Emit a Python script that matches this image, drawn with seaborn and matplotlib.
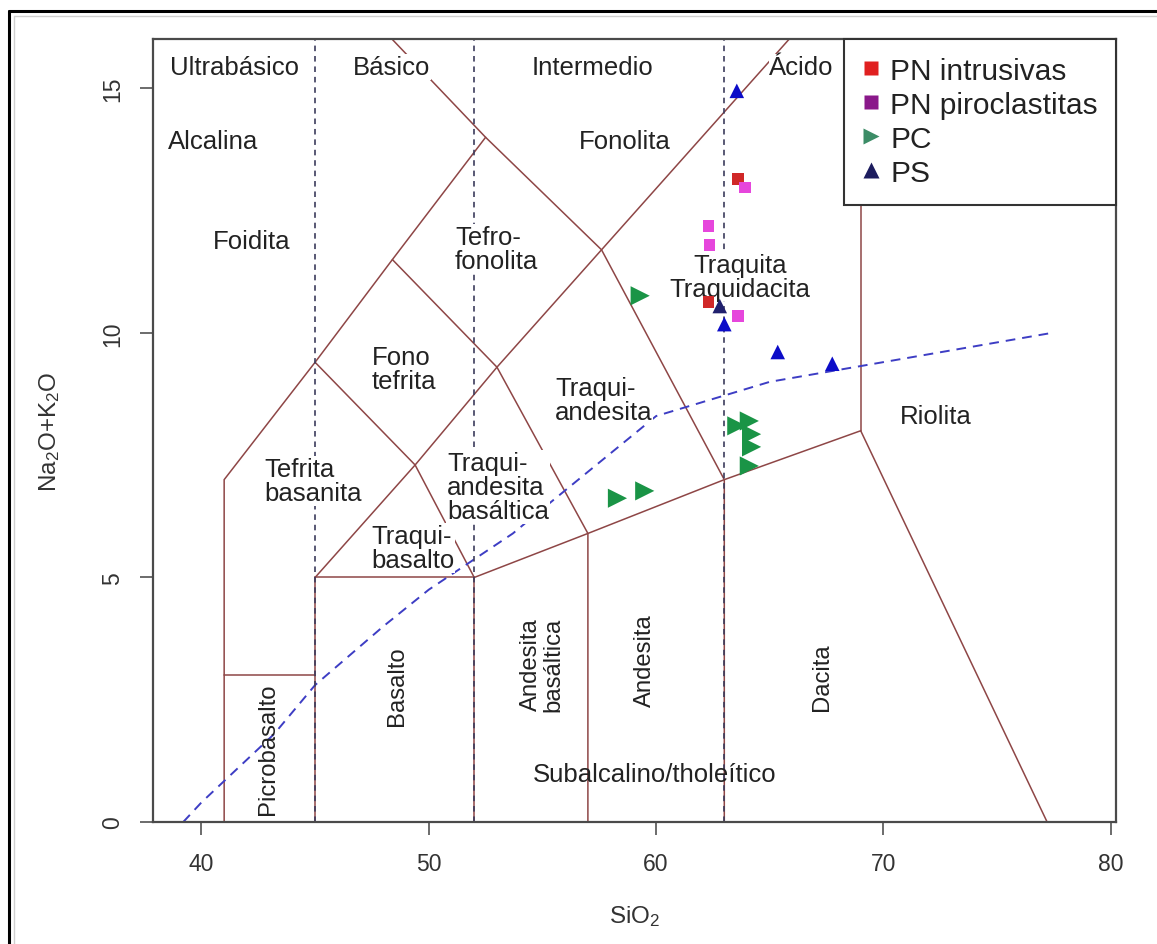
import matplotlib
matplotlib.use("Agg")
import matplotlib.pyplot as plt
import seaborn as sns
import pandas as pd
from matplotlib.lines import Line2D

sns.set_theme(style="white")
plt.rcParams["font.family"] = ["Liberation Sans", "DejaVu Sans"]
plt.rcParams["mathtext.default"] = "regular"
plt.rcParams["lines.scale_dashes"] = False

# ---- sample compositions: SiO2 (wt%) and Na2O+K2O (wt%) ----
pn_intr_sio2 = [63.6, 62.3]
pn_intr_alk = [13.15, 10.63]

pn_pir_sio2 = [63.9, 62.3, 62.35, 63.6]
pn_pir_alk = [12.97, 12.19, 11.80, 10.35]

pc_sio2 = [59.3, 63.55, 64.1, 64.2, 64.2, 64.1, 58.3, 59.5]
pc_alk = [10.76, 8.10, 8.20, 7.93, 7.67, 7.28, 6.62, 6.77]

ps_sio2 = [63.55, 62.8, 63.0, 65.35, 67.75]
ps_alk = [14.95, 10.55, 10.18, 9.61, 9.37]
ps_subset = ["b", "a", "b", "b", "b"]

# ---- TAS field boundaries (Le Bas et al., 1986) ----
tas_lines = [
    [(41, 0), (41, 7), (45, 9.4), (48.4, 11.5), (52.5, 14), (48.4, 16)],
    [(41, 3), (45, 3)],
    [(45, 0), (45, 5), (52, 5), (52, 0)],
    [(45, 5), (49.4, 7.3), (53, 9.3), (57.6, 11.7), (65.84, 16)],
    [(49.4, 7.3), (45, 9.4)],
    [(48.4, 11.5), (53, 9.3), (57, 5.9), (57, 0)],
    [(49.4, 7.3), (52, 5)],
    [(52, 5), (57, 5.9), (63, 7), (69, 8), (77.2, 0)],
    [(52.5, 14), (57.6, 11.7), (63, 7), (63, 0)],
    [(69, 8), (69, 13)],
]

# silica divisions: ultrabasic / basic / intermediate / acid
silica_limits = [45, 52, 63]

# alkaline / subalkaline divide (Irvine & Baragar, 1971)
ib_sio2 = [39.2, 40, 43.2, 45, 48, 50, 53.7, 55, 60, 65, 77.4]
ib_alk = [0, 0.4, 1.8, 2.8, 4, 4.75, 5.9, 6.4, 8.3, 9, 10]

# field names
field_labels = [
    ("Ultrabásico", 41.45, 15.44, "center", 0),
    ("Básico", 48.38, 15.44, "center", 0),
    ("Intermedio", 57.2, 15.44, "center", 0),
    ("Ácido", 66.4, 15.44, "center", 0),
    ("Alcalina", 40.5, 13.93, "center", 0),
    ("Foidita", 42.2, 11.88, "center", 0),
    ("Fonolita", 58.6, 13.93, "center", 0),
    ("Tefro-\nfonolita", 51.15, 11.72, "left", 0),
    ("Fono\ntefrita", 47.5, 9.26, "left", 0),
    ("Traquita\nTraquidacita", 63.69, 11.15, "center", 0),
    ("Traqui-\nandesita", 55.55, 8.63, "left", 0),
    ("Tefrita\nbasanita", 42.75, 6.97, "left", 0),
    ("Traqui-\nandesita\nbasáltica", 50.8, 6.85, "left", 0),
    ("Traqui-\nbasalto", 47.46, 5.6, "left", 0),
    ("Riolita", 72.3, 8.3, "center", 0),
    ("Picrobasalto", 42.93, 1.5, "center", 90),
    ("Basalto", 48.6, 2.80, "center", 90),
    ("Andesita\nbasáltica", 54.98, 3.23, "center", 90),
    ("Andesita", 59.5, 3.33, "center", 90),
    ("Dacita", 67.3, 2.99, "center", 90),
]
subalk_label = ("Subalcalino/tholeítico", 59.95, 0.98)

W, H = 1157, 945
fig = plt.figure(figsize=(W / 100, H / 100), dpi=100)
fig.patch.set_facecolor("white")
ax = fig.add_axes([153 / W, 1 - 823 / H, (1116 - 153) / W, (823 - 40) / H])
ax.set_facecolor("white")

line_col = "#8e4646"
for seg in tas_lines:
    xs, ys = zip(*seg)
    ax.plot(xs, ys, color=line_col, lw=1.1, zorder=2, solid_joinstyle="miter")

for xv in silica_limits:
    ax.plot([xv, xv], [0, 16.1], color="#3c3c5c", lw=1.2,
            dashes=(4, 3.5), zorder=2.2)

ib = pd.DataFrame({"SiO2": ib_sio2, "alk": ib_alk})
sns.lineplot(data=ib, x="SiO2", y="alk", sort=False, ax=ax, color="#3d3dc4",
             lw=1.4, dashes=False, zorder=2.1).lines[-1].set_dashes((7, 5))

box = dict(facecolor="white", edgecolor="none", pad=0.6)
for txt, xv, yv, ha, rot in field_labels:
    ax.text(xv, yv, txt, ha=ha, va="center",
            multialignment=ha if rot == 0 else "center",
            rotation=rot, fontsize=18.5 if rot == 0 else 17.2,
            color="#222222", linespacing=1.0,
            bbox=box if rot == 0 else None, zorder=3)
ax.text(subalk_label[1], subalk_label[2], subalk_label[0], ha="center",
        va="center", fontsize=18.5, color="#222222", zorder=3)

# samples
sns.scatterplot(x=pn_intr_sio2, y=pn_intr_alk, marker="s", s=70,
                color="#d02828", edgecolor="none", ax=ax, zorder=4, legend=False)
sns.scatterplot(x=pn_pir_sio2, y=pn_pir_alk, marker="s", s=70,
                color="#e646dc", edgecolor="none", ax=ax, zorder=4, legend=False)
sns.scatterplot(x=pc_sio2, y=pc_alk, marker=">", s=190,
                color="#1a9446", edgecolor="none", ax=ax, zorder=4, legend=False)
sns.scatterplot(x=ps_sio2, y=ps_alk, hue=ps_subset,
                palette={"a": "#20206e", "b": "#0c0cc8"}, marker="^", s=110,
                edgecolor="none", ax=ax, zorder=5, legend=False)

ax.set_xlim(37.87, 80.23)
ax.set_ylim(0, 16.01)
ax.set_xticks([40, 50, 60, 70, 80])
ax.set_yticks([0, 5, 10, 15])
ax.tick_params(axis="both", direction="out", length=9.5, width=1.1,
               color="#444444", labelsize=16.5, labelcolor="#333333",
               bottom=True, left=True)
ax.tick_params(axis="x", pad=12)
ax.tick_params(axis="y", pad=11, labelrotation=90)
for lab in ax.get_yticklabels():
    lab.set_va("center")
for sp in ax.spines.values():
    sp.set_color("#4a4a4a")
    sp.set_linewidth(1.6)
ax.grid(False)

ax.set_xlabel("SiO$_2$", fontsize=17.5, color="#333333", va="center")
ax.xaxis.set_label_coords(0.5, (823 - 917) / 783)
ax.set_ylabel("Na$_2$O+K$_2$O", fontsize=17.5, color="#333333", va="center")
ax.yaxis.set_label_coords((50 - 153) / 963, 0.5)

handles = [
    Line2D([], [], ls="none", marker="s", ms=10, color="#e02020", mec="none"),
    Line2D([], [], ls="none", marker="s", ms=10, color="#8a188a", mec="none"),
    Line2D([], [], ls="none", marker=">", ms=12, color="#3c8c66", mec="none"),
    Line2D([], [], ls="none", marker="^", ms=12, color="#1c1c5e", mec="none"),
]
leg = ax.legend(handles, ["PN intrusivas", "PN piroclastitas", "PC", "PS"],
                loc="upper right", bbox_to_anchor=(1.0, 1.0), borderaxespad=0,
                fontsize=21.5, handlelength=0.6, handletextpad=0.35,
                borderpad=0.6, labelspacing=0.2, fancybox=False,
                framealpha=1, edgecolor="#333333")
leg.get_frame().set_linewidth(1.5)
leg.set_zorder(6)
for t in leg.get_texts():
    t.set_color("#222222")

# page frame
fig.add_artist(Line2D([9 / W, 9 / W], [0, 1 - 12 / H], transform=fig.transFigure,
                      color="black", lw=2.2))
fig.add_artist(Line2D([9 / W, 1], [1 - 12 / H, 1 - 12 / H],
                      transform=fig.transFigure, color="black", lw=2.2))
fig.add_artist(Line2D([14 / W, 14 / W], [0, 1 - 17 / H], transform=fig.transFigure,
                      color="#cfcfcf", lw=1))
fig.add_artist(Line2D([14 / W, 1], [1 - 17 / H, 1 - 17 / H],
                      transform=fig.transFigure, color="#cfcfcf", lw=1))

fig.savefig("out.png", dpi=100, facecolor="white")
